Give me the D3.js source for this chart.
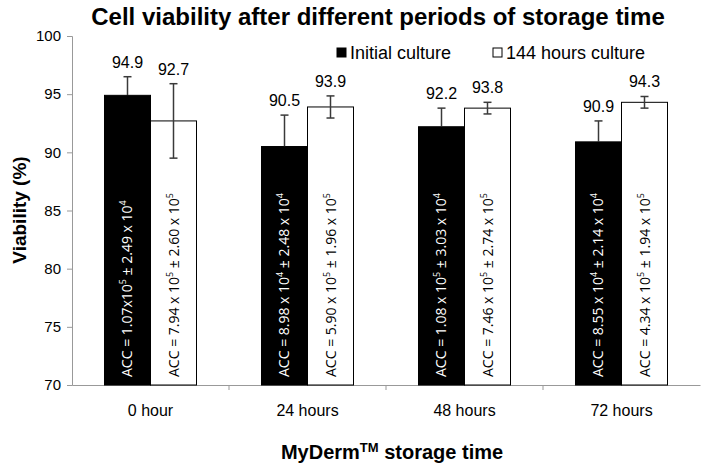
<!DOCTYPE html>
<html><head><meta charset="utf-8">
<script src="https://cdn.jsdelivr.net/npm/d3@7"></script>
<style>body{margin:0;background:#fff}svg{display:block}</style>
</head><body>
<svg id="c" width="707" height="464"></svg>
<script>
const categories = ["0 hour", "24 hours", "48 hours", "72 hours"];
const seriesNames = ["Initial culture", "144 hours culture"];
const initialValues = [94.9, 90.5, 92.2, 90.9];
const initialErrors = [1.6, 2.7, 1.6, 1.8];
const cultureValues = [92.7, 93.9, 93.8, 94.3];
const cultureErrors = [3.2, 0.95, 0.5, 0.5];
const initialAcc = ["ACC = 1.07x10^5 ± 2.49 x 10^4", "ACC = 8.98 x 10^4 ± 2.48 x 10^4", "ACC = 1.08 x 10^5 ± 3.03 x 10^4", "ACC = 8.55 x 10^4 ± 2.14 x 10^4"];
const cultureAcc = ["ACC = 7.94 x 10^5 ± 2.60 x 10^5", "ACC = 5.90 x 10^5 ± 1.96 x 10^5", "ACC = 7.46 x 10^5 ± 2.74 x 10^5", "ACC = 4.34 x 10^5 ± 1.94 x 10^5"];
const yTicks = [70, 75, 80, 85, 90, 95, 100];

const svg = d3.select("#c");
const L = 72, R = 700, T = 36, B = 385;
const x = d3.scaleBand().domain(categories).range([L, R]).padding(0);
const bw = x.bandwidth();
const x1 = d3.scaleBand().domain(seriesNames).range([bw * 0.207, bw * 0.793]).padding(0);
const y = d3.scaleLinear().domain([70, 100]).range([B, T]);
const FONT = "Liberation Sans, Arial, sans-serif";

const data = [];
categories.forEach((c, i) => {
  data.push({c, s: seriesNames[0], v: initialValues[i], e: initialErrors[i], acc: initialAcc[i]});
  data.push({c, s: seriesNames[1], v: cultureValues[i], e: cultureErrors[i], acc: cultureAcc[i]});
});

// axes
const yAxis = svg.append("g").attr("transform", `translate(${L},0)`)
  .call(d3.axisLeft(y).tickValues(yTicks).tickSize(5).tickPadding(6));
yAxis.select(".domain").attr("stroke", "#999");
yAxis.selectAll(".tick line").attr("stroke", "#999");
yAxis.selectAll("text").attr("font-family", FONT).attr("font-size", 15).attr("fill", "#000");

const xAxis = svg.append("g").attr("transform", `translate(0,${B})`)
  .call(d3.axisBottom(x).tickSize(0).tickPadding(20));
xAxis.select(".domain").attr("stroke", "#999");
xAxis.selectAll("text").attr("font-family", FONT).attr("font-size", 16).attr("fill", "#000");
const bounds = categories.slice(1).map(c => x(c));
svg.append("g").selectAll("line").data(bounds).join("line")
  .attr("x1", d => d).attr("x2", d => d).attr("y1", B).attr("y2", B + 5).attr("stroke", "#999");

// bars
svg.append("g").selectAll("rect").data(data).join("rect")
  .attr("x", d => x(d.c) + x1(d.s))
  .attr("width", x1.bandwidth())
  .attr("y", d => y(d.v))
  .attr("height", d => y(70) - y(d.v))
  .attr("fill", d => d.s === seriesNames[0] ? "#000" : "#fff")
  .attr("stroke", "#000").attr("stroke-width", 1);

// error bars
const eg = svg.append("g").attr("stroke", "#3a3a3a").attr("stroke-width", 1.5);
data.forEach(d => {
  const cx = x(d.c) + x1(d.s) + x1.bandwidth() / 2;
  const lowCol = d.s === seriesNames[0] ? "#000" : "#3a3a3a";
  eg.append("line").attr("x1", cx).attr("x2", cx).attr("y1", y(d.v + d.e)).attr("y2", y(d.v));
  eg.append("line").attr("x1", cx).attr("x2", cx).attr("y1", y(d.v)).attr("y2", y(d.v - d.e)).attr("stroke", lowCol);
  eg.append("line").attr("x1", cx - 4).attr("x2", cx + 4).attr("y1", y(d.v + d.e)).attr("y2", y(d.v + d.e));
  eg.append("line").attr("x1", cx - 4).attr("x2", cx + 4).attr("y1", y(d.v - d.e)).attr("y2", y(d.v - d.e)).attr("stroke", lowCol);
});

// value labels
svg.append("g").selectAll("text").data(data).join("text")
  .attr("x", d => x(d.c) + x1(d.s) + x1.bandwidth() / 2)
  .attr("y", d => y(d.v + d.e) - 9)
  .attr("text-anchor", "middle")
  .attr("font-family", FONT).attr("font-size", 16)
  .text(d => d.v.toFixed(1));

// ACC labels
data.forEach(d => {
  const cx = x(d.c) + x1(d.s) + x1.bandwidth() / 2;
  const t = svg.append("text")
    .attr("transform", `translate(${cx + 5},${B - 8}) rotate(-90)`)
    .attr("font-family", "Open Sans, sans-serif").attr("font-size", 14)
    .attr("fill", d.s === seriesNames[0] ? "#fff" : "#000");
  const parts = d.acc.split(/\^(\d)/);
  parts.forEach((p, i) => {
    if (i % 2 === 0) {
      if (p) t.append("tspan").attr("baseline-shift", "0").text(p);
    } else {
      t.append("tspan").attr("font-size", 9).attr("baseline-shift", "super").text(p);
    }
  });
});

// title
svg.append("text").attr("x", 378).attr("y", 25).attr("text-anchor", "middle")
  .attr("font-family", FONT).attr("font-weight", "bold").attr("font-size", 24)
  .text("Cell viability after different periods of storage time");

// legend
const lg = svg.append("g").attr("font-family", FONT).attr("font-size", 18);
const legX = [337, 493];
seriesNames.forEach((s, i) => {
  lg.append("rect").attr("x", legX[i]).attr("y", 48).attr("width", 9).attr("height", 9)
    .attr("fill", i === 0 ? "#000" : "#fff").attr("stroke", "#000").attr("stroke-width", 1);
  lg.append("text").attr("x", legX[i] + 13).attr("y", 59).text(s);
});

// axis titles
svg.append("text").attr("transform", "translate(26,210) rotate(-90)").attr("text-anchor", "middle")
  .attr("font-family", FONT).attr("font-weight", "bold").attr("font-size", 19)
  .text("Viability (%)");
const xt = svg.append("text").attr("x", 392).attr("y", 459).attr("text-anchor", "middle")
  .attr("font-family", FONT).attr("font-weight", "bold").attr("font-size", 20);
xt.append("tspan").text("MyDerm");
xt.append("tspan").attr("font-size", 13).attr("baseline-shift", "super").text("TM");
xt.append("tspan").text(" storage time");
</script>
</body></html>
